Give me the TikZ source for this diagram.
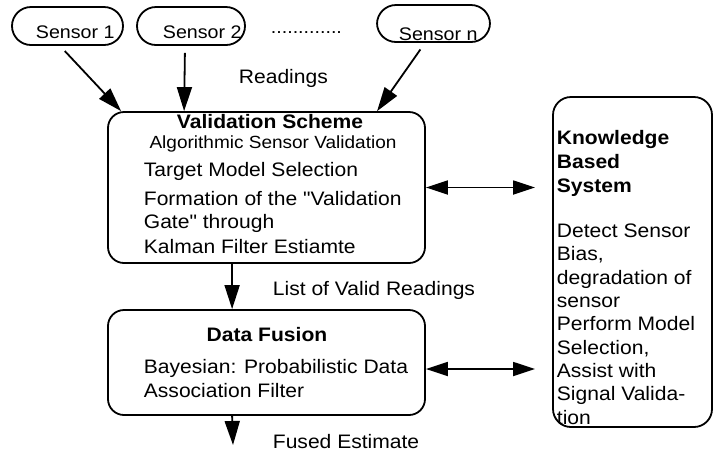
\documentclass[tikz,border=0pt]{standalone}
\usepackage{fontspec}
\setmainfont{Liberation Sans}[FakeStretch=1.08, Ligatures=TeXOff]
\usetikzlibrary{arrows.meta,calc}
\begin{document}
\begin{tikzpicture}[x=1pt,y=-1pt, line width=1.8pt,
 box/.style={draw, rounded corners=16pt, minimum width=317pt, inner sep=0pt},
 pill/.style={draw, rounded corners=19pt, minimum height=38pt, inner sep=0pt},
 txt/.style={inner sep=0pt, anchor=base west, font=\fontsize{19.5}{22}\selectfont},
 stxt/.style={inner sep=0pt, anchor=base west, font=\fontsize{18.2}{22}\selectfont},
 btxt/.style={inner sep=0pt, anchor=base, font=\fontsize{19.5}{22}\selectfont\bfseries},
 arr/.style={-{Triangle[length=24pt,width=15pt]}},
 darr/.style={{Triangle[length=22pt,width=14pt]}-{Triangle[length=22pt,width=14pt]}}]
\useasboundingbox (0,0) rectangle (714,459);

% sensors
\node[pill, minimum width=111pt] (s1) at (67.5,26) {};
\node[stxt] (s1t) at (35,38) {Sensor 1};
\node[pill, minimum width=108pt] (s2) at (191,26) {};
\node[stxt] (s2t) at (162,38) {Sensor 2};
\node[stxt] (dots) at (270,33) {.............};
\node[pill, minimum width=113pt, minimum height=37pt] (sn) at (433.5,23.5) {};
\node[stxt] (snt) at (398,40) {Sensor n};

% validation scheme
\node[box, minimum height=151pt] (vs) at (266.5,187.5) {};
\node[btxt] (vst) at (270,128) {Validation Scheme};
\node[inner sep=0pt, anchor=base, font=\fontsize{17.6}{20}\selectfont] (vsa) at (273,148) {Algorithmic Sensor Validation};
\node[txt] (vs1) at (143,176) {Target Model Selection};
\node[txt] (vs2) at (143,205) {Formation of the "Validation};
\node[txt] (vs3) at (143,228) {Gate" through};
\node[txt] (vs4) at (143,253) {Kalman Filter Estiamte};

% sensor arrows
\draw[arr, shorten <=7pt] ([xshift=-7.5pt]s1.south) -- ($(vs.north west)+(14,0)$);
\draw[arr, shorten <=7pt] ([xshift=-6pt]s2.south) -- ($(vs.north west)+(77,0)$);
\draw[arr, shorten <=8pt] ([xshift=-8.5pt]sn.south) -- ($(vs.north west)+(270,0)$);
\node[txt] (rd) at (238,83) {Readings};

% data fusion
\node[box, minimum height=105pt] (df) at (266.5,362.5) {};
\node[btxt] (dft) at (267,341) {Data Fusion};
\node[txt] (df1) at (143,373) {Bayesian: Probabilistic Data};
\node[txt] (df2) at (143,397) {Association Filter};

\draw[arr] ($(vs.south west)+(125,0)$) -- ($(df.north west)+(125,0)$);
\node[txt] (lv) at (272,295) {List of Valid Readings};
\coordinate (fe) at (233,445);
\draw[arr] ($(df.south west)+(125,0)$) -- (fe);
\node[txt] (fet) at (272,448) {Fused Estimate};

% knowledge based system
\node[draw, rounded corners=18pt, minimum width=159pt, minimum height=330pt, inner sep=0pt] (kb) at (632.5,262) {};
\foreach \t/\yy in {Knowledge/144, Based/168, System/192}
  \node[inner sep=0pt, anchor=base west, font=\fontsize{19.5}{22}\selectfont\bfseries] at (556,\yy) {\t};
\foreach \t/\yy in {Detect Sensor/237, {Bias,}/260.5, degradation of/284, sensor/307, Perform Model/330.5, {Selection,}/354, Assist with/377, Signal Valida-/400.5, tion/424}
  \node[txt] at (556,\yy) {\t};

\coordinate (k1) at (535,187.5);
\coordinate (k2) at (535,369);
\draw[darr] (vs.east) -- (k1);
\draw[darr] ([yshift=-6.5pt]df.east) -- (k2);
\end{tikzpicture}
\end{document}
